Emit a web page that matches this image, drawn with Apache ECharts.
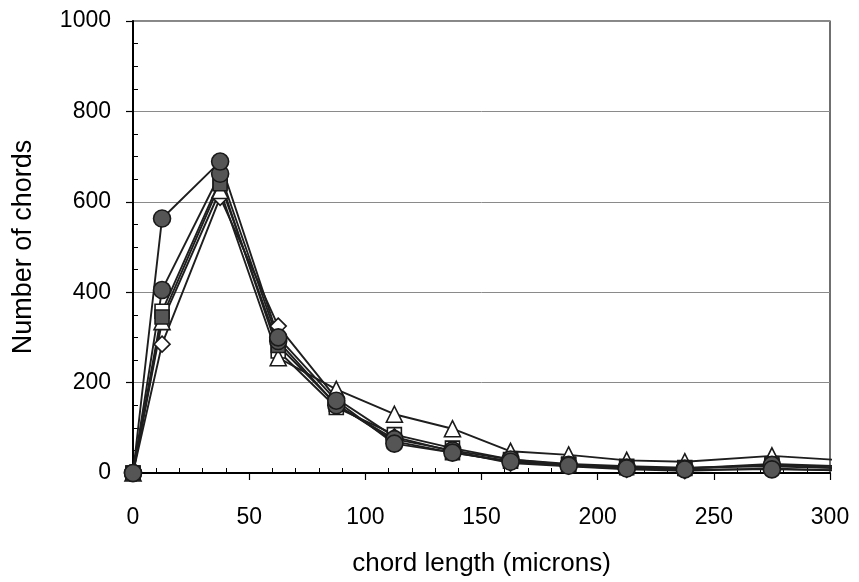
<!DOCTYPE html>
<html>
<head>
<meta charset="utf-8">
<script src="https://cdn.jsdelivr.net/npm/echarts@6/dist/echarts.min.js"></script>
<style>html,body{margin:0;padding:0;background:#fff}#c{width:859px;height:582px}</style>
</head>
<body>
<div id="c"></div>
<script>
// chord length bin centres (microns); last entry is where the lines leave the frame
var xValues = [0, 12.5, 37.5, 62.5, 87.5, 112.5, 137.5, 162.5, 187.5, 212.5, 237.5, 275, 306];
var seriesCircleA  = [0, 563, 689, 300, 160, 65, 45, 25, 16, 10, 8, 8, 6];
var seriesCircleB  = [0, 405, 662, 292, 150, 75, 50, 30, 18, 12, 10, 18, 12];
var seriesSquareF  = [0, 345, 640, 282, 152, 70, 45, 26, 18, 12, 10, 20, 15];
var seriesSquareO  = [0, 358, 648, 270, 145, 85, 55, 30, 20, 15, 12, 15, 10];
var seriesTriangle = [0, 335, 625, 255, 185, 130, 98, 48, 40, 28, 25, 38, 28];
var seriesDiamond  = [0, 285, 610, 325, 165, 80, 48, 22, 15, 8, 5, 10, 5];
var yTicks = [0, 200, 400, 600, 800, 1000];
var xTicks = [0, 50, 100, 150, 200, 250, 300];

var diamondPath = 'path://M0,-1 L1,0 L0,1 L-1,0 Z';
var defs = [
  {name: 'A', data: seriesSquareO, symbol: 'rect', fill: '#fff', size: 14},
  {name: 'B', data: seriesDiamond, symbol: diamondPath, fill: '#fff', size: 16},
  {name: 'C', data: seriesTriangle, symbol: 'triangle', fill: '#fff', size: 16},
  {name: 'D', data: seriesSquareF, symbol: 'rect', fill: '#555', size: 14},
  {name: 'E', data: seriesCircleB, symbol: 'circle', fill: '#555', size: 17},
  {name: 'F', data: seriesCircleA, symbol: 'circle', fill: '#555', size: 17}
];

var series = defs.map(function (d) {
  return {
    name: d.name,
    type: 'line',
    xAxisIndex: 0,
    yAxisIndex: 0,
    clip: false,
    symbol: d.symbol,
    symbolSize: d.size,
    data: xValues.map(function (x, i) {
      var p = {value: [x, d.data[i]]};
      if (i === xValues.length - 1) p.symbol = 'none';
      return p;
    }),
    lineStyle: {color: '#1e1e1e', width: 1.9},
    itemStyle: {color: d.fill, borderColor: '#1a1a1a', borderWidth: 1.6},
    emphasis: {disabled: true},
    animation: false
  };
});

var font = 'Liberation Sans, Arial, sans-serif';
var plain = function (v) { return String(v); };
var chart = echarts.init(document.getElementById('c'), null, {renderer: 'canvas'});
chart.setOption({
  animation: false,
  grid: {left: 133, right: 29, top: 21, bottom: 108, show: true, borderColor: '#111', borderWidth: 1.2, backgroundColor: 'transparent'},
  xAxis: [
    {
      type: 'value', min: xTicks[0], max: xTicks[xTicks.length - 1], interval: 50,
      position: 'bottom',
      name: 'chord length (microns)', nameLocation: 'middle', nameGap: 78,
      nameTextStyle: {fontFamily: font, fontSize: 26, color: '#000'},
      axisLine: {show: true, onZero: false, lineStyle: {color: '#000', width: 2}},
      axisTick: {show: true, inside: false, length: 7, lineStyle: {color: '#000', width: 1.2}},
      minorTick: {show: false},
      axisLabel: {show: true, margin: 33, fontFamily: font, fontSize: 23, color: '#000', formatter: plain},
      splitLine: {show: false}
    },
    {
      type: 'value', min: xTicks[0], max: xTicks[xTicks.length - 1], interval: 50,
      position: 'bottom', gridIndex: 0,
      axisLine: {show: false, onZero: false},
      axisTick: {show: false, inside: true},
      minorTick: {show: true, splitNumber: 5, length: 5, lineStyle: {color: '#000', width: 1}},
      axisLabel: {show: false},
      splitLine: {show: false}
    }
  ],
  yAxis: [
    {
      type: 'value', min: yTicks[0], max: yTicks[yTicks.length - 1], interval: 200,
      position: 'left',
      name: 'Number of chords', nameLocation: 'middle', nameGap: 96, nameRotate: 90,
      nameTextStyle: {fontFamily: font, fontSize: 27, color: '#000'},
      axisLine: {show: true, onZero: false, lineStyle: {color: '#000', width: 2}},
      axisTick: {show: true, inside: false, length: 7, lineStyle: {color: '#000', width: 1.2}},
      minorTick: {show: false},
      axisLabel: {show: true, margin: 22, fontFamily: font, fontSize: 23, color: '#000', formatter: plain},
      splitLine: {show: true, lineStyle: {color: '#8a8a8a', width: 1}}
    },
    {
      type: 'value', min: yTicks[0], max: yTicks[yTicks.length - 1], interval: 200,
      position: 'left', gridIndex: 0,
      axisLine: {show: false, onZero: false},
      axisTick: {show: false, inside: true},
      minorTick: {show: true, splitNumber: 4, length: 5, lineStyle: {color: '#000', width: 1}},
      axisLabel: {show: false},
      splitLine: {show: false}
    }
  ],
  series: series
});
</script>
</body>
</html>
